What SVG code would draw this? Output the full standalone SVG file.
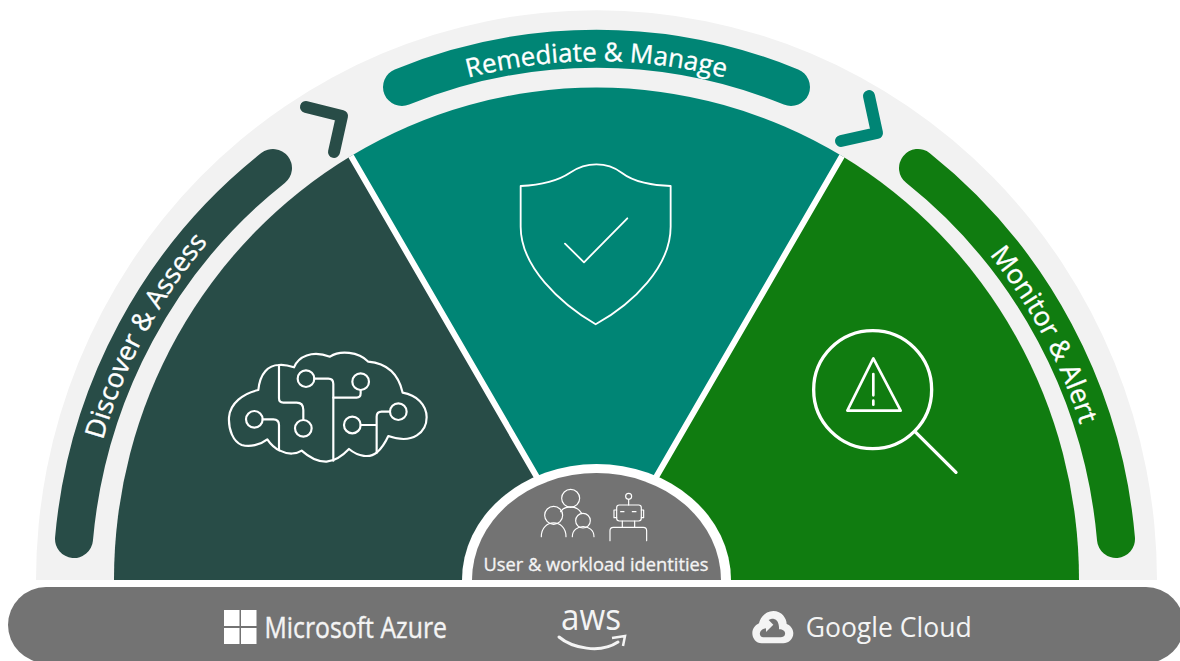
<svg xmlns="http://www.w3.org/2000/svg" width="1180" height="661" viewBox="0 0 1180 661">
<style>
.band{fill:none;stroke-width:38;stroke-linecap:round}
.chev{fill:none;stroke-width:12;stroke-linecap:round;stroke-linejoin:round}
.lbl{font-family:"Open Sans","Noto Sans",sans-serif;font-size:27px;fill:#fff;stroke:#fff;stroke-width:.35px;text-anchor:middle}
.top{font-size:26px}
.ico{fill:none;stroke:#fff;stroke-linecap:round;stroke-linejoin:round}
.logo{font-family:"Open Sans","Noto Sans",sans-serif;fill:#f4f4f4}
.ms{stroke:#f4f4f4;stroke-width:.4px}
</style>
<defs>
<path id="arcL" d="M85,540 A511 520 0 0 1 281,172"/>
<path id="arcT" d="M410,97 A511 520 0 0 1 783,97"/>
<path id="arcR" d="M906,172 A507 520 0 0 1 1103,540"/>
</defs>
<rect width="1180" height="661" fill="#fff"/>
<path id="backdrop" d="M36,580 A560.5 570 0 0 1 1157,580 Z" fill="#f2f2f2"/>
<g id="discover">
<path d="M114,580 A482.5 492 0 0 1 351,156 L596.5,580 Z" fill="#284c47"/>
<path class="band" stroke="#284c47" d="M74,539 A522 531 0 0 1 273,168"/>
<text class="lbl"><textPath href="#arcL" startOffset="50%">Discover &amp; Assess</textPath></text>
<g class="ico" transform="translate(200,330) scale(0.3333)" stroke-width="6.5">
<path d="M175,180 C180,130 205,105 237,105 C255,103 270,108 282,112 C295,80 335,60 390,80 C420,60 475,65 505,95 C560,100 595,130 608,188 C650,195 680,225 680,262 C680,305 640,345 565,318 C555,340 545,355 530,368 C510,385 475,380 447,357 C430,375 410,392 380,395 C350,396 325,380 305,362 C290,372 265,375 240,362 C225,355 210,340 202,328 C180,345 150,352 125,345 C100,335 85,300 87,262 C90,220 130,190 175,180 Z"/>
<path d="M237,105 V205 Q237,218 250,218 H290 Q310,218 310,240 V270"/>
<circle cx="310" cy="295" r="25"/>
<circle cx="318" cy="146" r="25"/>
<path d="M343,146 H385 Q400,146 400,162 V392"/>
<circle cx="482" cy="155" r="25"/>
<path d="M482,180 V190 Q482,203 470,203 H400"/>
<circle cx="163" cy="268" r="25"/>
<path d="M188,268 H220 Q237,268 237,285 V360"/>
<circle cx="457" cy="285" r="25"/>
<path d="M482,285 H528"/>
<circle cx="595" cy="245" r="25"/>
<path d="M570,245 H545 Q530,245 530,260 V368"/>
</g>
</g>
<g id="remediate">
<path d="M351,156 A482.5 492 0 0 1 842,156 L596.5,580 Z" fill="#008575"/>
<path class="band" stroke="#008575" d="M402,87 A522 531 0 0 1 791,87"/>
<text class="lbl top"><textPath href="#arcT" startOffset="50%">Remediate &amp; Manage</textPath></text>
<g class="ico" transform="translate(500,150) scale(0.3333)" stroke-width="5.5">
<path d="M62,108 C120,105 170,95 210,68 C260,35 320,35 365,68 C400,95 460,108 512,108 L512,230 C512,350 400,460 287,523 C180,460 62,350 62,230 Z"/>
<path d="M195,281 L252,337 L382,205"/>
</g>
</g>
<g id="monitor">
<path d="M842,156 A482.5 492 0 0 1 1079,580 L596.5,580 Z" fill="#107c10"/>
<path class="band" stroke="#107c10" d="M918,168 A522 531 0 0 1 1116,539"/>
<text class="lbl"><textPath href="#arcR" startOffset="50%">Monitor &amp; Alert</textPath></text>
<g class="ico" transform="translate(790,320) scale(0.3333)">
<circle cx="248" cy="209" r="177" stroke-width="10"/>
<path d="M375,335 L498,457" stroke-width="10"/>
<path d="M250,115 L172,272 H332 Z" stroke-width="8"/>
<path d="M250,162 V226 M250,242 V254" stroke-width="8"/>
</g>
</g>
<g id="connectors">
<path d="M351,156 L596.5,580 L842,156" fill="none" stroke="#fff" stroke-width="6"/>
<path class="chev" stroke="#284c47" d="M306,107 L342,116 L334,152"/>
<path class="chev" stroke="#008575" d="M869,96 L877,133 L841,141"/>
</g>
<g id="identities">
<path d="M462,580 A134.5 116 0 0 1 731,580 Z" fill="#fff"/>
<path d="M472,580 A124.5 107 0 0 1 721,580 Z" fill="#737373"/>
<g class="ico" transform="translate(440,450) scale(0.3333)" stroke-width="3.5">
<circle cx="392" cy="145" r="27"/>
<circle cx="341" cy="196" r="27"/>
<circle cx="429" cy="212" r="22"/>
<path d="M304,260 C304,205 378,205 378,260 M397,260 C397,220 462,220 462,260 M362,185 C375,165 410,165 425,190"/>
<circle cx="566" cy="139" r="9"/>
<path d="M566,148 V165"/>
<rect x="530" y="165" width="74" height="48" rx="8"/>
<path d="M530,180 H522 V203 H530 M604,180 H611 V203 H604 M542,185 H552 M577,185 H588 M547,213 V232 M584,213 V232 M510,272 V242 Q510,232 520,232 H610 Q620,232 620,242 V272"/>
</g>
<text x="596" y="571" font-family="'Open Sans','Noto Sans',sans-serif" font-size="17.5" fill="#f4f4f4" stroke="#f4f4f4" stroke-width=".3" text-anchor="middle" textLength="225" lengthAdjust="spacingAndGlyphs">User &amp; workload identities</text>
</g>
<g id="clouds">
<rect x="8" y="587" width="1176" height="76" rx="38" fill="#737373"/>
<g id="azure" fill="#fff">
<rect x="224" y="610" width="15.5" height="16"/>
<rect x="241" y="610" width="15.5" height="16"/>
<rect x="224" y="628" width="15.5" height="16"/>
<rect x="241" y="628" width="15.5" height="16"/>
<text class="logo ms" x="264.5" y="637.5" font-size="28.5" textLength="182.5" lengthAdjust="spacingAndGlyphs">Microsoft Azure</text>
</g>
<g id="aws">
<text class="logo" x="561" y="630" font-size="37" textLength="60" lengthAdjust="spacingAndGlyphs">aws</text>
<path d="M559,637 C572,648 600,654 618,642" fill="none" stroke="#f4f4f4" stroke-width="3" stroke-linecap="round"/>
<path d="M612,638 L625,636 L623,646" fill="none" stroke="#f4f4f4" stroke-width="2.5"/>
</g>
<g id="google" transform="translate(740,600) scale(0.3333)">
<path d="M100,33 C125,33 140,55 140,72 C155,78 160,90 160,100 C160,118 145,130 130,130 H65 C48,130 37,115 37,100 C37,85 47,75 57,70 C62,48 80,33 100,33 Z" fill="#f4f4f4"/>
<path d="M100,56 C113,58 118,72 117,88 C130,88 137,95 135,103 C134,110 128,112 122,112 H70 C62,112 58,105 60,98 C62,90 70,86 78,85 L78,96 L100,74 L86,60 C90,57 95,56 100,56 Z" fill="#737373"/>
<text class="logo" x="197" y="110" font-size="84" textLength="498" lengthAdjust="spacingAndGlyphs">Google Cloud</text>
</g>
</g>
</svg>
